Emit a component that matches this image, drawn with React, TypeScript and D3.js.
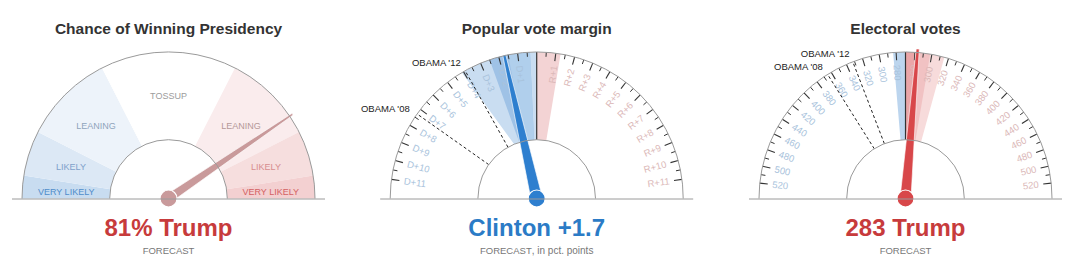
import React from 'react';
import * as d3 from 'd3';

const W = 1067;
const H = 272;
const FONT = '"Liberation Sans", Arial, sans-serif';

// ---------- layout ----------
const gaugeCenters = [168.5, 536.7, 905.5];
const CY = 198.5;
const R_OUT = 146.5;
const R_IN = 58.8;
const BASE_HALF = 156.5;

// ---------- titles / readouts ----------
const titles = ['Chance of Winning Presidency', 'Popular vote margin', 'Electoral votes'];
const readouts = ['81% Trump', 'Clinton +1.7', '283 Trump'];
const readoutColors = ['#c73b3c', '#2b7bc6', '#c73b3c'];

// ---------- gauge 1: win probability (Trump share, 0..1) ----------
const winZoneNames = ['VERY LIKELY', 'LIKELY', 'LEANING', 'TOSSUP', 'LEANING', 'LIKELY', 'VERY LIKELY'];
const winZoneBounds = [0, 0.05, 0.15, 0.35, 0.65, 0.85, 0.95, 1];
const winZoneLabelAt = [0.02, 0.1, 0.25, 0.5, 0.75, 0.9, 0.98];
const winZoneFill = ['#c8dcf0', '#dce8f5', '#edf3fa', '#ffffff', '#faeced', '#f6dede', '#f3d0d1'];
const winZoneText = ['#4f8dcb', '#7ea1cb', '#8fa4bc', '#9c9c9c', '#b49898', '#d68d8e', '#d46163'];
const trumpWinProb = 0.81;

// ---------- gauge 2: popular vote margin (negative = Democratic) ----------
const popDomain = [-12, 12];
const popLabelValues = [-11, -10, -9, -8, -7, -6, -5, -4, -3, -2, -1, 1, 2, 3, 4, 5, 6, 7, 8, 9, 10, 11];
const popLabels = ['D+11', 'D+10', 'D+9', 'D+8', 'D+7', 'D+6', 'D+5', 'D+4', 'D+3', 'D+2', 'D+1',
  'R+1', 'R+2', 'R+3', 'R+4', 'R+5', 'R+6', 'R+7', 'R+8', 'R+9', 'R+10', 'R+11'];
const popMinorTicks = [-10.5, -9.5, -8.5, -7.5, -6.5, -5.5, -4.5, -3.5, -2.5, -1.5, -0.5,
  0.5, 1.5, 2.5, 3.5, 4.5, 5.5, 6.5, 7.5, 8.5, 9.5, 10.5];
const popForecast = -1.7;
const popObamaNames = ["OBAMA '12", "OBAMA '08"];
const popObamaValues = [-3.9, -7.3];
// bands: [start, end at inner radius, end at outer radius]
const popBandStart = [0, -0.35, -0.35, 0];
const popBandEndInner = [-3.0, -2.3, -1.5, 1.25];
const popBandEndOuter = [-4.1, -2.5, -1.5, 1.25];
const popBandFill = ['#c9ddf1', '#9fc2e6', '#b0cfec', '#f3d3d4'];

// ---------- gauge 3: electoral votes (Trump EV, 0..538) ----------
const evDomain = [0, 538];
const evLeftLabels = [280, 300, 320, 340, 360, 380, 400, 420, 440, 460, 480, 500, 520]; // Clinton EV
const evRightLabels = [280, 300, 320, 340, 360, 380, 400, 420, 440, 460, 480, 500, 520]; // Trump EV
const evMinorTicks = [290, 310, 330, 350, 370, 390, 410, 430, 450, 470, 490, 510];
const evForecast = 283;
const evObamaNames = ["OBAMA '12", "OBAMA '08"];
const evObamaClinton = [332, 365];
const evBandStart = [269, 269, 269, 269];
const evBandEnd = [254.5, 315, 298, 280];
const evBandFill = ['#bcd5ee', '#f7dbdb', '#f1c2c3', '#eaa6a8'];

// ---------- helpers ----------
const polar = (r: number, a: number): [number, number] => [r * Math.sin(a), -r * Math.cos(a)];

function bandPath(a0: number, a1i: number, a1o: number) {
  const p = d3.path();
  const s0 = polar(R_IN, a0);
  p.moveTo(s0[0], s0[1]);
  const s1 = polar(R_OUT, a0);
  p.lineTo(s1[0], s1[1]);
  p.arc(0, 0, R_OUT, a0 - Math.PI / 2, a1o - Math.PI / 2, a1o < a0);
  const s2 = polar(R_IN, a1i);
  p.lineTo(s2[0], s2[1]);
  p.arc(0, 0, R_IN, a1i - Math.PI / 2, a0 - Math.PI / 2, a0 < a1i);
  p.closePath();
  return p.toString();
}

const needlePath = (w0: number, w1: number, len: number) =>
  `M${-w0},0L${-w1},${-len}L${w1},${-len}L${w0},0Z`;

const halfArc = (r: number) => {
  const p = d3.path();
  p.moveTo(-r, 0);
  p.arc(0, 0, r, Math.PI, 2 * Math.PI, false);
  return p.toString();
};

function Frame({ cx, i, children }: { cx: number; i: number; children?: React.ReactNode }) {
  return (
    <g transform={`translate(${cx},${CY})`}>
      {children}
      <path d={halfArc(R_IN)} fill="none" stroke="#9a9a9a" strokeWidth={1} />
      <path d={halfArc(R_OUT)} fill="none" stroke="#9a9a9a" strokeWidth={1} />
      <line x1={-BASE_HALF} x2={BASE_HALF} y1={0.5} y2={0.5} stroke="#9a9a9a" strokeWidth={1} />
      <text x={0} y={33.5 - CY} textAnchor="middle" fontSize={15.5} fontWeight="bold" fill="#333">{titles[i]}</text>
      <text x={0} y={235.5 - CY} textAnchor="middle" fontSize={24} fontWeight="bold" fill={readoutColors[i]}>{readouts[i]}</text>
    </g>
  );
}

function Needle({ a, color, w0, w1, len }: { a: number; color: string; w0: number; w1: number; len: number }) {
  const deg = (a * 180) / Math.PI;
  return (
    <g>
      <path d={needlePath(w0, w1, len)} transform={`rotate(${deg})`} fill={color} stroke="#fff" strokeWidth={0.6} />
      <circle r={8.5} fill={color} stroke="#fff" strokeWidth={1.2} />
    </g>
  );
}

function ObamaLines({ names, angles }: { names: string[]; angles: number[] }) {
  return (
    <g>
      {angles.map((a, k) => {
        const p0 = polar(R_IN, a);
        const p1 = polar(R_OUT, a);
        const pl = polar(R_OUT + 9, a);
        return (
          <g key={k}>
            <line x1={p0[0]} y1={p0[1]} x2={p1[0]} y2={p1[1]} stroke="#222" strokeWidth={1} strokeDasharray="3,2.5" />
            <text x={pl[0]} y={pl[1]} dy="0.35em" textAnchor="end" fontSize={9.5} fill="#222">{names[k]}</text>
          </g>
        );
      })}
    </g>
  );
}

function Ticks({ majors, minors, labels, leftColor, rightColor, isLeft }:
  { majors: number[]; minors: number[]; labels: string[]; leftColor: string; rightColor: string; isLeft: boolean[] }) {
  return (
    <g>
      {minors.map((a, k) => {
        const p0 = polar(R_OUT, a);
        const p1 = polar(R_OUT - 4.5, a);
        return <line key={'m' + k} x1={p0[0]} y1={p0[1]} x2={p1[0]} y2={p1[1]} stroke="#333" strokeWidth={1} />;
      })}
      {majors.map((a, k) => {
        const p0 = polar(R_OUT, a);
        const p1 = polar(R_OUT - 8, a);
        const pl = polar(134, a);
        const deg = (a * 180) / Math.PI;
        const left = isLeft[k];
        const rot = left ? 90 + deg : deg - 90;
        return (
          <g key={'M' + k}>
            <line x1={p0[0]} y1={p0[1]} x2={p1[0]} y2={p1[1]} stroke="#333" strokeWidth={1.1} />
            <text transform={`translate(${pl[0]},${pl[1]}) rotate(${rot})`} dy="0.35em"
              textAnchor={left ? 'start' : 'end'} fontSize={9.5} fill={left ? leftColor : rightColor}>{labels[k]}</text>
          </g>
        );
      })}
    </g>
  );
}

export default function App() {
  // gauge 1
  const winA = d3.scaleLinear().domain([0, 1]).range([-Math.PI / 2, Math.PI / 2]);
  const zoneArc = d3.arc<any>().innerRadius(R_IN).outerRadius(R_OUT);

  // gauge 2
  const popA = d3.scaleLinear().domain(popDomain).range([-Math.PI / 2, Math.PI / 2]);
  // gauge 3
  const evA = d3.scaleLinear().domain(evDomain).range([-Math.PI / 2, Math.PI / 2]);

  const evMajors = [...evLeftLabels.map((c) => evA(evDomain[1] - c)), ...evRightLabels.map((t) => evA(t))];
  const evMajorLabels = [...evLeftLabels.map(String), ...evRightLabels.map(String)];
  const evMinors = [...evMinorTicks.map((c) => evA(evDomain[1] - c)), ...evMinorTicks.map((t) => evA(t))];

  return (
    <svg width={W} height={H} style={{ position: 'absolute', left: 0, top: 0, fontFamily: FONT }}>
      <rect width={W} height={H} fill="#fff" />

      {/* Gauge 1 */}
      <Frame cx={gaugeCenters[0]} i={0}>
        {winZoneNames.map((n, k) => (
          <path key={'z' + k} d={zoneArc({ startAngle: winA(winZoneBounds[k]), endAngle: winA(winZoneBounds[k + 1]) }) as string}
            fill={winZoneFill[k]} />
        ))}
        {winZoneNames.map((n, k) => {
          const p = polar(102.5, winA(winZoneLabelAt[k]));
          return (
            <text key={'l' + k} x={p[0]} y={p[1]} dy="0.35em" textAnchor="middle" fontSize={9} fill={winZoneText[k]}>{n}</text>
          );
        })}
        <Needle a={winA(trumpWinProb)} color="#c99a9b" w0={4.5} w1={1} len={150} />
      </Frame>
      <text x={gaugeCenters[0]} y={253.5} textAnchor="middle" fontSize={9.5} fill="#777">FORECAST</text>

      {/* Gauge 2 */}
      <Frame cx={gaugeCenters[1]} i={1}>
        {popBandFill.map((f, k) => (
          <path key={'b' + k} d={bandPath(popA(popBandStart[k]), popA(popBandEndInner[k]), popA(popBandEndOuter[k]))} fill={f} />
        ))}
        <line x1={0} y1={-R_IN} x2={0} y2={-R_OUT} stroke="#333" strokeWidth={1.2} />
        <Ticks majors={popLabelValues.map((v) => popA(v))} minors={popMinorTicks.map((v) => popA(v))}
          labels={popLabels} leftColor="#a9c3dc" rightColor="#dbb8b8" isLeft={popLabelValues.map((v) => v < 0)} />
        <ObamaLines names={popObamaNames} angles={popObamaValues.map((v) => popA(v))} />
        <Needle a={popA(popForecast)} color="#2e7fcf" w0={5.8} w1={1.5} len={147} />
      </Frame>
      <text x={gaugeCenters[1]} y={253.5} textAnchor="middle" fontSize={9.5} fill="#777">
        FORECAST<tspan fontSize={10}>, in pct. points</tspan>
      </text>

      {/* Gauge 3 */}
      <Frame cx={gaugeCenters[2]} i={2}>
        {evBandFill.map((f, k) => (
          <path key={'b' + k} d={bandPath(evA(evBandStart[k]), evA(evBandEnd[k]), evA(evBandEnd[k]))} fill={f} />
        ))}
        <line x1={0} y1={-R_IN} x2={0} y2={-R_OUT} stroke="#333" strokeWidth={1.2} />
        <Ticks majors={evMajors} minors={evMinors} labels={evMajorLabels} leftColor="#a9c3dc" rightColor="#dbb8b8"
          isLeft={evMajors.map((a) => a < 0)} />
        <ObamaLines names={evObamaNames} angles={evObamaClinton.map((c) => evA(evDomain[1] - c))} />
        <Needle a={evA(evForecast)} color="#d8474a" w0={5.5} w1={1.5} len={150} />
      </Frame>
      <text x={gaugeCenters[2]} y={253.5} textAnchor="middle" fontSize={9.5} fill="#777">FORECAST</text>
    </svg>
  );
}
